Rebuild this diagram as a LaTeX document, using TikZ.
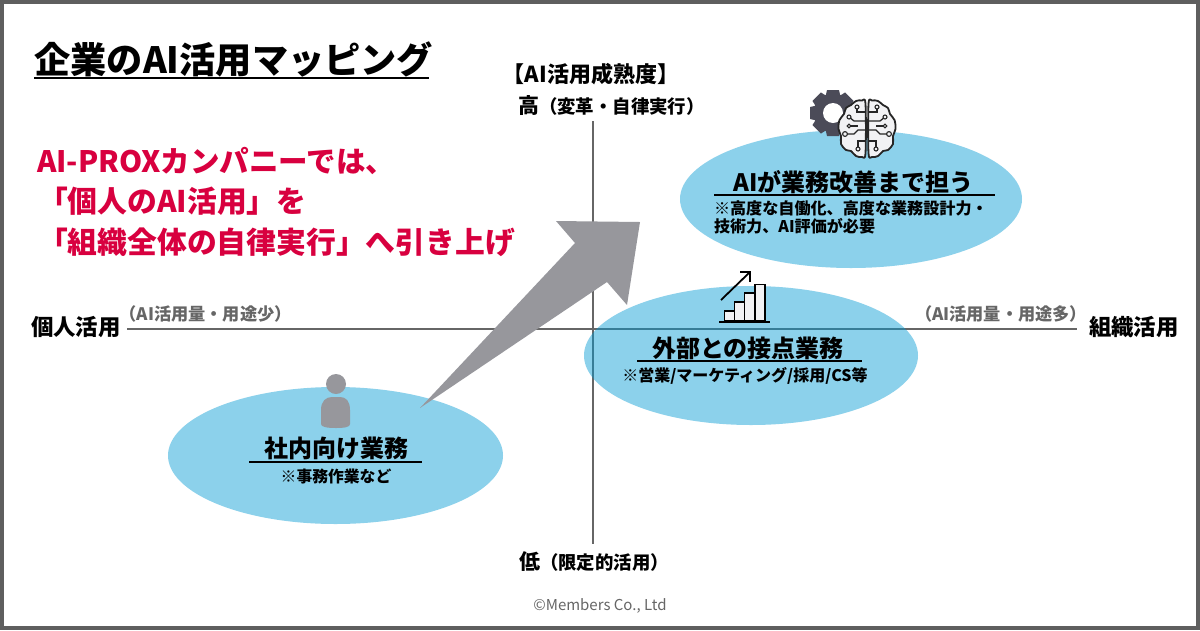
\documentclass[tikz,border=0pt]{standalone}
\usepackage{fontspec}
\setmainfont{Noto Sans CJK JP}
\definecolor{axisgray}{HTML}{666666}
\definecolor{framegray}{HTML}{5F5F5F}
\definecolor{arrowgray}{HTML}{97979C}
\definecolor{crimson}{HTML}{D8003F}
\definecolor{blobblue}{RGB}{0,153,211}
\definecolor{geardark}{HTML}{4B4B58}
\definecolor{iconfill}{HTML}{F2F2F4}
\newcommand{\fsz}[1]{\fontsize{#1pt}{#1pt}\selectfont}
\tikzset{
  txt/.style={inner sep=0pt,outer sep=0pt,anchor=base,font=\bfseries},
  txtl/.style={txt,anchor=base west},
  axisline/.style={draw=axisgray,line width=2pt},
  blob/.style={fill=blobblue,fill opacity=.45,draw=none},
  rule/.style={draw=black,line width=2pt},
  bar/.style={draw=black,fill=iconfill,line width=1.9pt},
  brainline/.style={draw=black!85,line width=1.8pt,fill=iconfill,line join=round},
  wire/.style={draw=black!85,line width=1.3pt},
  pad/.style={draw=black!85,fill=iconfill,line width=1.1pt},
}
\begin{document}
\begin{tikzpicture}[x=1pt,y=-1pt]
\useasboundingbox (0,0) rectangle (1200,630);
\fill[white] (0,0) rectangle (1200,630);
\draw[framegray,line width=4pt] (2,2) rectangle (1198,628);
% axes
\coordinate (axT) at (593,121); \coordinate (axB) at (593,544);
\coordinate (axL) at (127,329); \coordinate (axR) at (1077,329);
\draw[axisline] (axT) -- (axB);
\draw[axisline] (axL) -- (axR);
% blobs
\fill[blob] (851,199) ellipse [x radius=171,y radius=69];
\fill[blob] (751,355.5) ellipse [x radius=167,y radius=69.5];
\fill[blob] (335.5,455.5) ellipse [x radius=167.5,y radius=68.5];
% big arrow
\fill[arrowgray] (420,408) -- (575,243) -- (556,221) -- (640,222) -- (627,305) -- (607,282) -- cycle;
% title
\node[txtl] (title) at (34.5,73.5) {\fsz{36.2}企業のAI活用マッピング};
\draw[black,line width=2.6pt] (34,78) -- (429,78);
% message
\node[txtl,text=crimson] (m1) at (37,172) {\fsz{29.5}AI-PROXカンパニーでは、};
\node[txtl,text=crimson] (m2) at (38,212) {\fsz{29.8}「個人のAI活用」を};
\node[txtl,text=crimson] (m3) at (38,253) {\fsz{29.8}「組織全体の自律実行」へ引き上げ};
% axis labels
\node[txt] (mat) at (591,82.5) {\fsz{22}【AI活用成熟度】};
\node[txtl] (hi) at (518,113) {\fsz{21}高\fsz{18.4}（変革・自律実行）};
\node[txtl] (lo) at (519,569) {\fsz{21}低\fsz{18.4}（限定的活用）};
\node[txtl] (pers) at (31,335) {\fsz{22.4}個人活用};
\node[txtl] (org) at (1089,335) {\fsz{22.4}組織活用};
\node[txtl,text=axisgray] (lowuse) at (119.5,320) {\fsz{17.2}（AI活用量・用途少）};
\node[txtl,text=axisgray] (hiuse) at (915,320) {\fsz{17.2}（AI活用量・用途多）};
\node[txt,text=axisgray,font=\normalfont] (copy) at (600,610) {\fsz{15}©Members Co., Ltd};
% blob texts
\node[txt] (a1) at (853.5,191) {\fsz{24}AIが業務改善まで担う};
\draw[rule] (714,195) -- (995,195);
\node[txtl] (a2) at (714,214) {\fsz{16.1}※高度な自働化、高度な業務設計力・};
\node[txtl] (a3) at (714,232) {\fsz{16.1}技術力、AI評価が必要};
\node[txt] (b1) at (748,357) {\fsz{24}外部との接点業務};
\draw[rule] (637,361) -- (862,361);
\node[txt] (b2) at (745,381) {\fsz{16}※営業/マーケティング/採用/CS等};
\node[txt] (c1) at (336,457.5) {\fsz{24}社内向け業務};
\draw[rule] (249,462) -- (422,462);
\node[txt] (c2) at (336,482) {\fsz{15.8}※事務作業など};
% person icon
\fill[arrowgray] (336,384) circle (10);
\fill[arrowgray] (321,410) .. controls (321,401) and (326,397) .. (332,397) -- (340,397) .. controls (346,397) and (350,401) .. (350,410) -- (350,424) .. controls (350,427) and (345,428) .. (336,428) .. controls (327,428) and (321,427) .. (321,424) -- cycle;
% chart icon
\draw[bar] (724.5,311) rectangle (734.5,321);
\draw[bar] (734.5,302) rectangle (744.5,321);
\draw[bar] (744.5,293) rectangle (755,321);
\draw[bar] (755,284.5) rectangle (765,321);
\draw[black,line width=2.2pt] (719,322) -- (770,322);
\draw[black,line width=1.8pt] (721,300) -- (750,272);
\draw[black,line width=1.8pt] (740,272) -- (750,272) -- (750,282);
% gear icon
\foreach \a in {0,45,...,315}{
  \fill[geardark,rotate around={\a:(833,113)}] (827,90) -- (839,90) -- (841,99) -- (825,99) -- cycle;
}
\fill[geardark] (833,113) circle (19.5);
\fill[white] (833,113) circle (10);
% brain icon
\newcommand{\lobe}{%
  \draw[brainline] plot[smooth cycle,tension=.55] coordinates {(865.5,104)(862,100.5)(856,101)(851,105)(846,108)(844,114)(839.5,120)(838.5,129)(841,136)(841,144)(846,150)(851,151)(856,156)(862,157)(865.5,153)};
  \draw[wire] (865.5,112) -- (857,112) -- (857,107);
  \draw[wire] (865.5,121) -- (854,121) -- (849,117);
  \draw[wire] (865.5,130) -- (858,130) -- (854,134) -- (846,134);
  \draw[wire] (865.5,141) -- (858,141) -- (858,149);
  \draw[wire] (849,126) -- (858,126);
  \draw[pad] (857,107) circle (2);
  \draw[pad] (849,117) circle (2);
  \draw[pad] (845,134) circle (2.4);
  \draw[pad] (858,149) circle (2);
  \draw[pad] (849,126) circle (1.8);
}
\begin{scope}\lobe\end{scope}
\begin{scope}[xscale=-1,xshift=-1734pt]\lobe\end{scope}
\end{tikzpicture}
\end{document}
